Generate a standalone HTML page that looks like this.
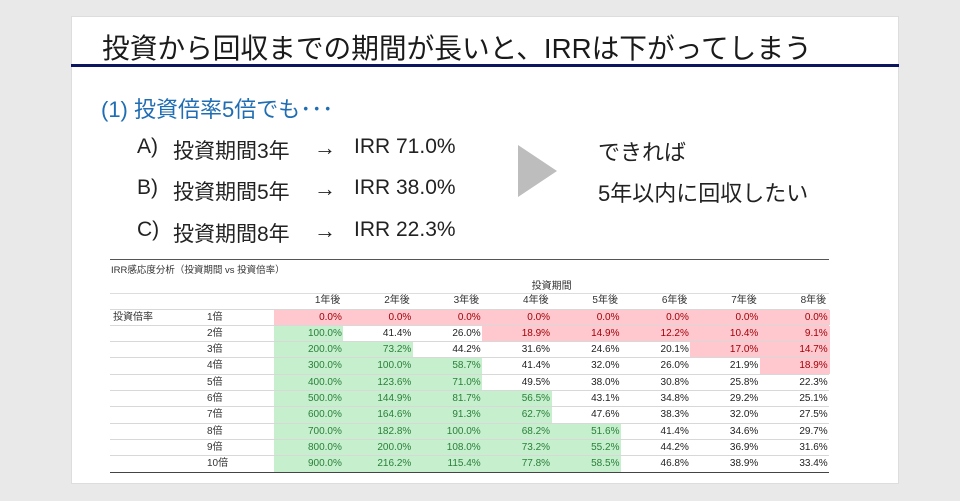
<!DOCTYPE html>
<html><head><meta charset="utf-8"><style>
body{margin:0;width:960px;height:501px;background:#e9e9e9;position:relative;overflow:hidden;font-family:"Liberation Sans","Noto Sans CJK JP",sans-serif;}
#slide{position:absolute;left:71px;top:16px;width:828px;height:468px;background:#fff;border:1px solid #ddd;box-sizing:border-box;}
.t{position:absolute;white-space:nowrap;color:#222;}
.c{font-size:21px;}
#tbl{position:absolute;left:110px;top:259px;width:719px;height:212px;}
</style></head><body>
<div id="slide"></div>
<div class="t" style="left:102px;top:26px;font-size:27.7px;color:#1a1a1a;">投資から回収までの期間が長いと、IRRは下がってしまう</div>
<div style="position:absolute;left:71px;top:64px;width:828px;height:3px;background:#0b1560;"></div>
<div class="t" style="left:101px;top:92px;font-size:22px;color:#1f6db3;">(1) 投資倍率5倍でも･･･</div>

<div class="t c" style="left:137px;top:135px;">A)</div>
<div class="t c" style="left:173px;top:135px;">投資期間3年</div>
<div class="t c" style="left:314px;top:135px;font-size:22px;">→</div>
<div class="t c" style="left:354px;top:135px;">IRR 71.0%</div>

<div class="t c" style="left:137px;top:176px;">B)</div>
<div class="t c" style="left:173px;top:176px;">投資期間5年</div>
<div class="t c" style="left:314px;top:176px;font-size:22px;">→</div>
<div class="t c" style="left:354px;top:176px;">IRR 38.0%</div>

<div class="t c" style="left:137px;top:218px;">C)</div>
<div class="t c" style="left:173px;top:218px;">投資期間8年</div>
<div class="t c" style="left:314px;top:218px;font-size:22px;">→</div>
<div class="t c" style="left:354px;top:218px;">IRR 22.3%</div>

<svg style="position:absolute;left:518px;top:145px" width="40" height="52"><polygon points="0,0 39,26 0,52" fill="#bdbdbd"/></svg>
<div class="t" style="left:598px;top:135px;font-size:22px;">できれば</div>
<div class="t" style="left:598px;top:176px;font-size:22px;">5年以内に回収したい</div>
<div id="tbl"></div>
<script>
const periods=["1年後","2年後","3年後","4年後","5年後","6年後","7年後","8年後"];
const multiples=["1倍","2倍","3倍","4倍","5倍","6倍","7倍","8倍","9倍","10倍"];
const irr=[
[0,0,0,0,0,0,0,0],
[100,41.4,26.0,18.9,14.9,12.2,10.4,9.1],
[200,73.2,44.2,31.6,24.6,20.1,17.0,14.7],
[300,100,58.7,41.4,32.0,26.0,21.9,18.9],
[400,123.6,71.0,49.5,38.0,30.8,25.8,22.3],
[500,144.9,81.7,56.5,43.1,34.8,29.2,25.1],
[600,164.6,91.3,62.7,47.6,38.3,32.0,27.5],
[700,182.8,100,68.2,51.6,41.4,34.6,29.7],
[800,200,108.0,73.2,55.2,44.2,36.9,31.6],
[900,216.2,115.4,77.8,58.5,46.8,38.9,33.4]];
const T=document.getElementById('tbl');
const x0=164,cw=69.4,hy=35,ry0=50.5,rh=16.3;
function add(html,style,name){const d=document.createElement('div');d.style.cssText=style;d.innerHTML=html;


T.appendChild(d);return d;}
add('','position:absolute;left:0;top:0;width:719px;height:1px;background:#555;','table-top-rule');
add('IRR感応度分析（投資期間 vs 投資倍率）','position:absolute;left:1px;top:3px;font-size:9.5px;color:#333;white-space:nowrap;','table-caption');
add('投資期間','position:absolute;left:'+(x0+3*cw)+'px;width:'+(2*cw)+'px;top:18px;font-size:10px;text-align:center;color:#333;','column-group-title');
add('','position:absolute;left:0;top:'+(hy-1)+'px;width:719px;height:1px;background:#ddd;','header-top-line');
periods.forEach((p,j)=>{add(p,'position:absolute;left:'+(x0+j*cw)+'px;width:'+cw+'px;top:'+hy+'px;height:14px;font-size:10px;line-height:14px;text-align:right;padding-right:3px;box-sizing:border-box;color:#333;','period-header');});
add('投資倍率','position:absolute;left:3px;top:'+ry0+'px;font-size:10px;line-height:16px;color:#333;','row-group-title');
multiples.forEach((m,i)=>{const y=ry0+i*rh;
add('','position:absolute;left:0;top:'+(y-1)+'px;width:719px;height:1px;background:#d8d8d8;','row-line');
add(m,'position:absolute;left:97px;top:'+y+'px;font-size:10px;line-height:16px;color:#333;','multiple-label');
irr[i].forEach((v,j)=>{let bg='#fff',c='#222';
if(v>=50){bg='#c6efce';c='#2a7f38';}else if(v<20){bg='#ffc7ce';c='#9c0006';}
add(v.toFixed(1)+'%','position:absolute;left:'+(x0+j*cw)+'px;width:'+(cw+0.5)+'px;top:'+y+'px;height:'+(rh-0.5)+'px;font-size:10px;line-height:'+rh+'px;text-align:right;padding-right:2px;box-sizing:border-box;background:'+bg+';color:'+c+';','irr-cell');});});
add('','position:absolute;left:0;top:'+(ry0+10*rh-1)+'px;width:719px;height:1px;background:#444;','table-bottom-rule');
</script>
</body></html>
